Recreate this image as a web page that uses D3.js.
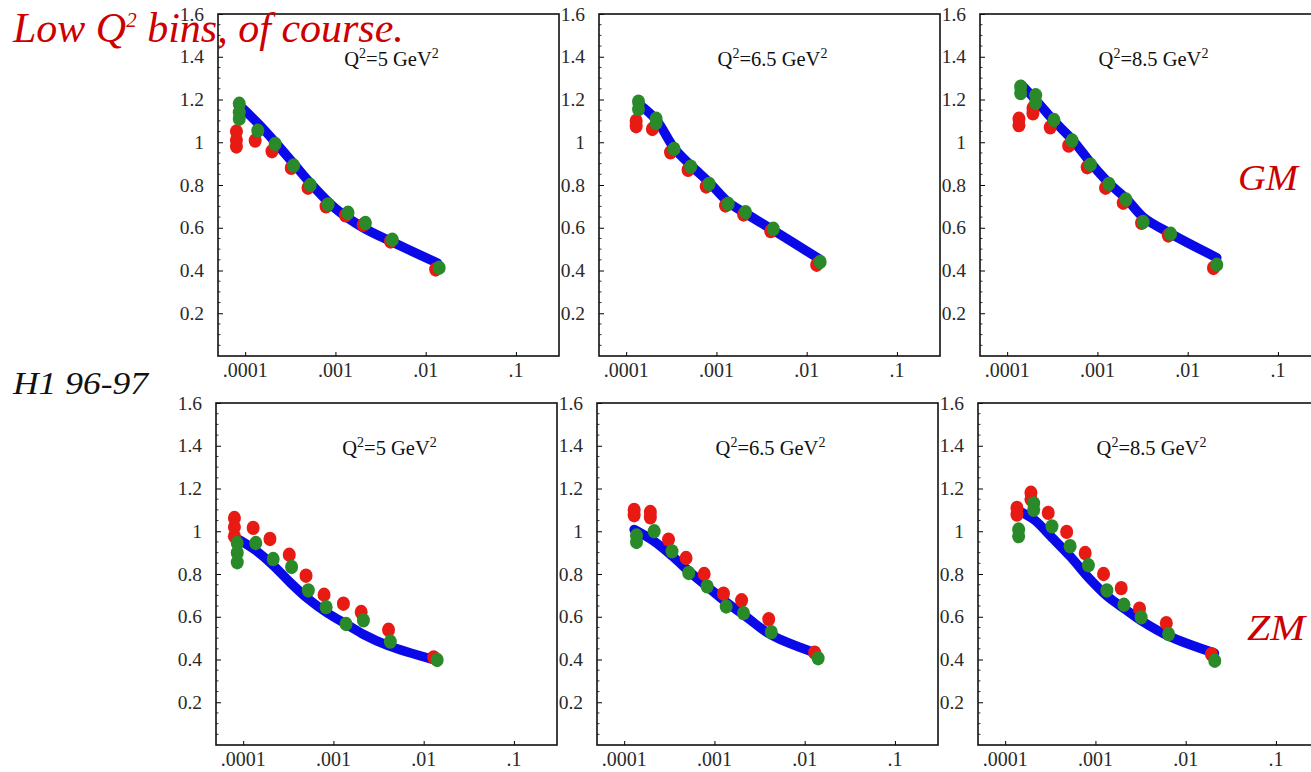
<!DOCTYPE html>
<html>
<head>
<meta charset="utf-8">
<script src="https://cdn.jsdelivr.net/npm/d3@7"></script>
<style>
  body { margin: 0; background: #fff; }
  svg { display: block; }
</style>
</head>
<body>
<svg id="chart" width="1311" height="772"></svg>
<script>
// ---- axis ticks and labels ----
const yTicks = [0.2, 0.4, 0.6, 0.8, 1, 1.2, 1.4, 1.6];
const xTicks = [1e-4, 1e-3, 1e-2, 1e-1];
const xTickLabels = [".0001", ".001", ".01", ".1"];
const q2Values = ["5", "6.5", "8.5"];
const modelNames = ["GM", "ZM"];

// ---- H1 96-97 data, [x, F] pairs: red and green sets, blue = model curve ----
// GM, Q2 = 5
const gm5Red = [[8.0e-5,1.05],[8.0e-5,1.01],[8.0e-5,0.98],[1.29e-4,1.008],[1.98e-4,0.958],[3.24e-4,0.88],[4.97e-4,0.787],[7.87e-4,0.70],[1.29e-3,0.658],[2.03e-3,0.614],[4.08e-3,0.536],[1.29e-2,0.405]];
const gm5Green = [[8.6e-5,1.18],[8.6e-5,1.14],[8.6e-5,1.11],[1.38e-4,1.054],[2.15e-4,0.992],[3.44e-4,0.891],[5.27e-4,0.80],[8.3e-4,0.709],[1.38e-3,0.67],[2.15e-3,0.622],[4.27e-3,0.544],[1.41e-2,0.413]];
const gm5Fit = [[9.6e-5,1.155],[1.41e-4,1.085],[2.15e-4,1.0],[3.44e-4,0.90],[5.5e-4,0.80],[1.0e-3,0.69],[1.98e-3,0.603],[4.27e-3,0.533],[1.35e-2,0.435]];
// GM, Q2 = 6.5
const gm65Red = [[1.29e-4,1.10],[1.29e-4,1.075],[1.95e-4,1.062],[3.1e-4,0.953],[4.85e-4,0.871],[7.7e-4,0.793],[1.26e-3,0.704],[2.0e-3,0.662],[4.0e-3,0.584],[1.29e-2,0.427]];
const gm65Green = [[1.37e-4,1.19],[1.37e-4,1.155],[2.15e-4,1.11],[2.15e-4,1.09],[3.39e-4,0.969],[5.19e-4,0.886],[8.3e-4,0.805],[1.35e-3,0.712],[2.1e-3,0.673],[4.27e-3,0.595],[1.41e-2,0.44]];
const gm65Fit = [[1.37e-4,1.18],[2.15e-4,1.105],[3.44e-4,0.97],[5.27e-4,0.89],[8.4e-4,0.81],[1.35e-3,0.72],[2.15e-3,0.665],[4.27e-3,0.588],[1.37e-2,0.455]];
// GM, Q2 = 8.5
const gm85Red = [[1.35e-4,1.11],[1.35e-4,1.08],[1.93e-4,1.16],[1.93e-4,1.135],[3.0e-4,1.07],[4.8e-4,0.984],[7.7e-4,0.883],[1.23e-3,0.787],[1.93e-3,0.717],[3.08e-3,0.623],[6.1e-3,0.564],[1.93e-2,0.412]];
const gm85Green = [[1.41e-4,1.26],[1.41e-4,1.23],[2.07e-4,1.22],[2.07e-4,1.185],[3.3e-4,1.104],[5.24e-4,1.008],[8.36e-4,0.895],[1.34e-3,0.805],[2.07e-3,0.732],[3.21e-3,0.627],[6.47e-3,0.572],[2.1e-2,0.427]];
const gm85Fit = [[1.43e-4,1.27],[2.1e-4,1.195],[3.3e-4,1.10],[5.37e-4,1.008],[8.6e-4,0.899],[1.37e-3,0.805],[2.1e-3,0.735],[3.21e-3,0.65],[6.5e-3,0.572],[2.1e-2,0.46]];
// ZM, Q2 = 5
const zm5Red = [[8.0e-5,1.062],[8.0e-5,1.02],[8.0e-5,0.977],[1.29e-4,1.016],[1.98e-4,0.964],[3.24e-4,0.89],[4.97e-4,0.792],[7.87e-4,0.703],[1.29e-3,0.661],[2.03e-3,0.622],[4.08e-3,0.539],[1.29e-2,0.41]];
const zm5Green = [[8.6e-5,0.945],[8.6e-5,0.90],[8.6e-5,0.855],[1.38e-4,0.945],[2.15e-4,0.87],[3.44e-4,0.833],[5.27e-4,0.723],[8.3e-4,0.645],[1.38e-3,0.566],[2.15e-3,0.583],[4.27e-3,0.484],[1.41e-2,0.398]];
const zm5Fit = [[8.95e-5,0.961],[1.31e-4,0.917],[2.1e-4,0.845],[3.36e-4,0.758],[5.37e-4,0.68],[8.6e-4,0.617],[1.43e-3,0.562],[2.19e-3,0.516],[3.98e-3,0.466],[1.32e-2,0.398]];
// ZM, Q2 = 6.5
const zm65Red = [[1.29e-4,1.10],[1.29e-4,1.075],[1.95e-4,1.09],[1.95e-4,1.065],[3.1e-4,0.961],[4.85e-4,0.875],[7.7e-4,0.80],[1.26e-3,0.708],[2.0e-3,0.677],[4.0e-3,0.589],[1.29e-2,0.432]];
const zm65Green = [[1.37e-4,0.98],[1.37e-4,0.95],[2.15e-4,1.0],[3.39e-4,0.906],[5.19e-4,0.805],[8.3e-4,0.742],[1.35e-3,0.648],[2.1e-3,0.617],[4.27e-3,0.528],[1.41e-2,0.406]];
const zm65Fit = [[1.29e-4,1.008],[2.15e-4,0.953],[3.43e-4,0.883],[5.47e-4,0.805],[8.73e-4,0.734],[1.39e-3,0.664],[2.22e-3,0.602],[4.2e-3,0.516],[1.32e-2,0.43]];
// ZM, Q2 = 8.5
const zm85Red = [[1.35e-4,1.109],[1.35e-4,1.078],[1.93e-4,1.18],[1.93e-4,1.15],[3.0e-4,1.086],[4.8e-4,0.997],[7.7e-4,0.898],[1.23e-3,0.80],[1.93e-3,0.734],[3.08e-3,0.638],[6.1e-3,0.57],[1.93e-2,0.425]];
const zm85Green = [[1.41e-4,1.008],[1.41e-4,0.977],[2.07e-4,1.13],[2.07e-4,1.10],[3.3e-4,1.023],[5.24e-4,0.93],[8.36e-4,0.841],[1.34e-3,0.723],[2.07e-3,0.656],[3.21e-3,0.597],[6.47e-3,0.519],[2.1e-2,0.394]];
const zm85Fit = [[1.42e-4,1.094],[2.08e-4,1.055],[3.33e-4,0.969],[5.32e-4,0.88],[8.5e-4,0.78],[1.36e-3,0.695],[2.17e-3,0.633],[3.33e-3,0.578],[6.6e-3,0.508],[2.08e-2,0.43]];

const panelData = [
  [{red: gm5Red, green: gm5Green, fit: gm5Fit}, {red: gm65Red, green: gm65Green, fit: gm65Fit}, {red: gm85Red, green: gm85Green, fit: gm85Fit}],
  [{red: zm5Red, green: zm5Green, fit: zm5Fit}, {red: zm65Red, green: zm65Green, fit: zm65Fit}, {red: zm85Red, green: zm85Green, fit: zm85Fit}]
];

// ---- layout ----
const svg = d3.select("#chart");
const serif = "'Liberation Serif', 'Times New Roman', serif";
const panelW = 341, panelH = 342, panelStep = 381;
const rowTop = [14, 403];
const rowLeft = [218, 216];
const colors = { red: "#e81a14", green: "#2a8a2a", blue: "#0a0ae8", text: "#2a2a2a", script: "#cc0000" };

const x = d3.scaleLog().domain([5e-5, 0.3]).range([0, panelW]);
const y = d3.scaleLinear().domain([0, 1.6]).range([panelH, 0]);

const line = d3.line()
  .x(d => x(d[0]))
  .y(d => y(d[1]))
  .curve(d3.curveCatmullRom.alpha(0.5));

panelData.forEach((row, r) => {
  row.forEach((pd, c) => {
    const g = svg.append("g")
      .attr("transform", `translate(${rowLeft[r] + c * panelStep},${rowTop[r]})`);

    // y axis: labels outside, ticks pointing inward
    const yAxis = d3.axisRight(y)
      .tickValues(yTicks)
      .tickSize(5)
      .tickFormat("");
    g.append("g").call(yAxis).call(s => s.select(".domain").remove());
    // minor y ticks
    const yMinor = d3.range(0.05, 1.6, 0.05).filter(v => !yTicks.some(t => Math.abs(t - v) < 1e-6));
    g.append("g").selectAll("line").data(yMinor).join("line")
      .attr("x1", 0).attr("x2", 2.5)
      .attr("y1", d => y(d)).attr("y2", d => y(d))
      .attr("stroke", "#333").attr("stroke-width", 1);
    g.append("g").selectAll("text").data(yTicks).join("text")
      .attr("x", -14).attr("y", d => y(d) + 6.5)
      .attr("text-anchor", "end")
      .attr("font-family", serif).attr("font-size", 19.5)
      .attr("fill", colors.text)
      .text(d => d3.format("")(d));

    // x axis: ticks pointing inward
    const xAxis = d3.axisTop(x)
      .tickValues(xTicks)
      .tickSize(4)
      .tickFormat("");
    g.append("g").attr("transform", `translate(0,${panelH})`).call(xAxis)
      .call(s => s.select(".domain").remove());
    g.append("g").selectAll("text").data(xTicks).join("text")
      .attr("x", d => x(d)).attr("y", panelH + 21)
      .attr("text-anchor", "middle")
      .attr("font-family", serif).attr("font-size", 20)
      .attr("fill", colors.text)
      .text((d, i) => xTickLabels[i]);

    // frame
    g.append("rect")
      .attr("width", panelW).attr("height", panelH)
      .attr("fill", "none").attr("stroke", "#111").attr("stroke-width", 1.6);

    // model curve
    g.append("path").datum(pd.fit)
      .attr("d", line)
      .attr("fill", "none")
      .attr("stroke", colors.blue)
      .attr("stroke-width", 9.5)
      .attr("stroke-linecap", "round")
      .attr("stroke-linejoin", "round");

    // data points
    ["red", "green"].forEach(key => {
      g.append("g").selectAll("ellipse").data(pd[key]).join("ellipse")
        .attr("cx", d => x(d[0]))
        .attr("cy", d => y(d[1]))
        .attr("rx", 6.5).attr("ry", 7.2)
        .attr("fill", colors[key]);
    });

    // Q2 label
    const t = g.append("text")
      .attr("x", panelW / 2 + 3).attr("y", 52)
      .attr("text-anchor", "middle")
      .attr("font-family", serif).attr("font-size", 20.5)
      .attr("fill", "#111");
    t.append("tspan").text("Q");
    t.append("tspan").attr("dy", -8).attr("font-size", 14).text("2");
    t.append("tspan").attr("dy", 8).text("=" + q2Values[c] + " GeV");
    t.append("tspan").attr("dy", -8).attr("font-size", 14).text("2");
  });
});

// model names at right side
svg.append("text")
  .attr("x", 1238).attr("y", 190)
  .attr("font-family", serif).attr("font-style", "italic")
  .attr("font-size", 36).attr("fill", colors.script)
  .attr("textLength", 60).attr("lengthAdjust", "spacingAndGlyphs")
  .text(modelNames[0]);
svg.append("text")
  .attr("x", 1247).attr("y", 640)
  .attr("font-family", serif).attr("font-style", "italic")
  .attr("font-size", 36).attr("fill", colors.script)
  .attr("textLength", 58).attr("lengthAdjust", "spacingAndGlyphs")
  .text(modelNames[1]);

// dataset label
svg.append("text")
  .attr("x", 13).attr("y", 394)
  .attr("font-family", serif).attr("font-style", "italic")
  .attr("font-size", 32).attr("fill", "#111")
  .attr("textLength", 135).attr("lengthAdjust", "spacingAndGlyphs")
  .text("H1 96-97");

// headline
const head = svg.append("text")
  .attr("x", 13).attr("y", 42)
  .attr("font-family", serif).attr("font-style", "italic")
  .attr("font-size", 42).attr("fill", colors.script);
head.append("tspan").text("Low Q");
head.append("tspan").attr("dy", -15).attr("font-size", 21).text("2");
head.append("tspan").attr("dy", 15).text(" bins, of course.");
</script>
</body>
</html>
